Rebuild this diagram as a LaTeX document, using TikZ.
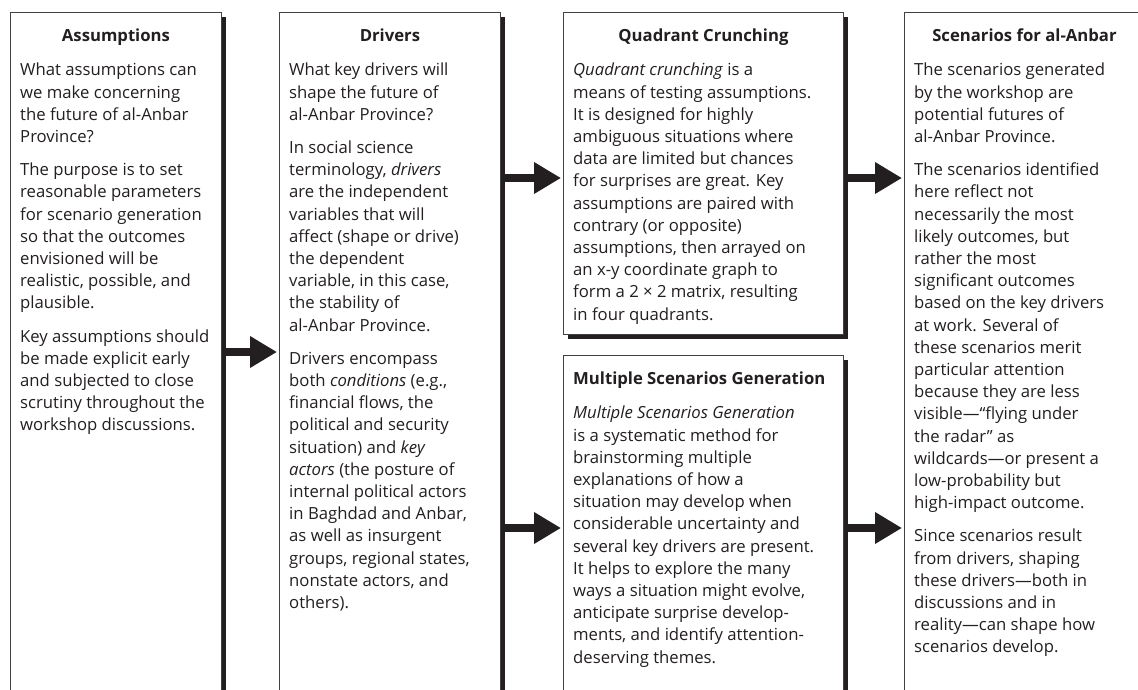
\documentclass[tikz,border=0pt]{standalone}
\usepackage{fontspec}
\setmainfont{Open Sans}
\usetikzlibrary{positioning,shadows,arrows.meta}
\definecolor{ink}{HTML}{231F20}

\begin{document}
\begin{tikzpicture}[x=1pt,y=-1pt,
  box/.style={draw=ink!85,line width=0.9pt,fill=white,anchor=north west,inner sep=0pt,
    drop shadow={shadow xshift=4.5pt,shadow yshift=-4.5pt,fill=ink,opacity=1}},
  head/.style={font=\fontsize{16.7}{22.2}\selectfont\bfseries,text=ink,inner sep=0pt},
  body/.style={font=\fontsize{16.7}{22.2}\selectfont,text=ink,align=left,inner sep=0pt,anchor=north west},
  flow/.style={draw=ink,line width=8pt,-{Triangle[length=27pt,width=30pt]},shorten >=2pt}]
\fill[white] (0,0) rectangle (1138,689);
\useasboundingbox (0,0) rectangle (1138,689);

% boxes
\node[box,minimum width=211pt,minimum height=720pt] (assum) at (10,12) {};
\node[box,minimum width=221pt,minimum height=720pt] (drv) at (279,12) {};
\node[box,minimum width=280pt,minimum height=322pt] (quad) at (563,12) {};
\node[box,minimum width=280pt,minimum height=400pt] (multi) at (563,355) {};
\node[box,minimum width=240pt,minimum height=720pt] (scen) at (904,12) {};

% headings
\node[head,below=17pt of assum.north] (assumH) {Assumptions};
\node[head,below=17pt of drv.north] (drvH) {Drivers};
\node[head,below=17pt of quad.north] (quadH) {Quadrant Crunching};
\node[head,below=17pt of scen.north] (scenH) {Scenarios for al-Anbar};
\node[head,anchor=north west,below right=17pt and 10pt of multi.north west] (multiH) {Multiple Scenarios Generation};

% texts
\node[body,below right=51pt and 10pt of assum.north west] (assumB) {What assumptions can\\
we make concerning\\
the future of al-Anbar\\
Province?\\[11pt]
The purpose is to set\\
reasonable parameters\\
for scenario generation\\
so that the outcomes\\
envisioned will be\\
realistic, possible, and\\
plausible.\\[11pt]
Key assumptions should\\
be made explicit early\\
and subjected to close\\
scrutiny throughout the\\
workshop discussions.};

\node[body,below right=51pt and 10pt of drv.north west] (drvB) {What key drivers will\\
shape the future of\\
al-Anbar Province?\\[11pt]
In social science\\
terminology, \textit{drivers}\\
are the independent\\
variables that will\\
affect (shape or drive)\\
the dependent\\
variable, in this case,\\
the stability of\\
al-Anbar Province.\\[11pt]
Drivers encompass\\
both \textit{conditions} (e.g.,\\
financial flows, the\\
political and security\\
situation) and \textit{key}\\
\textit{actors} (the posture of\\
internal political actors\\
in Baghdad and Anbar,\\
as well as insurgent\\
groups, regional states,\\
nonstate actors, and\\
others).};

\node[body,below right=51pt and 10pt of quad.north west] (quadB) {\textit{Quadrant crunching} is a\\
means of testing assumptions.\\
It is designed for highly\\
ambiguous situations where\\
data are limited but chances\\
for surprises are great. Key\\
assumptions are paired with\\
contrary (or opposite)\\
assumptions, then arrayed on\\
an x-y coordinate graph to\\
form a 2 × 2 matrix, resulting\\
in four quadrants.};

\node[body,below right=51pt and 10pt of multi.north west] (multiB) {\textit{Multiple Scenarios Generation}\\
is a systematic method for\\
brainstorming multiple\\
explanations of how a\\
situation may develop when\\
considerable uncertainty and\\
several key drivers are present.\\
It helps to explore the many\\
ways a situation might evolve,\\
anticipate surprise develop-\\
ments, and identify attention-\\
deserving themes.};

\node[body,below right=51pt and 10pt of scen.north west] (scenB) {The scenarios generated\\
by the workshop are\\
potential futures of\\
al-Anbar Province.\\[11pt]
The scenarios identified\\
here reflect not\\
necessarily the most\\
likely outcomes, but\\
rather the most\\
significant outcomes\\
based on the key drivers\\
at work. Several of\\
these scenarios merit\\
particular attention\\
because they are less\\
visible—“flying under\\
the radar” as\\
wildcards—or present a\\
low-probability but\\
high-impact outcome.\\[11pt]
Since scenarios result\\
from drivers, shaping\\
these drivers—both in\\
discussions and in\\
reality—can shape how\\
scenarios develop.};

% arrows
\coordinate (y1) at (0,352);
\coordinate (y2) at (0,178);
\coordinate (y3) at (0,528);
\draw[flow] (assum.east |- y1) -- (drv.west |- y1);
\draw[flow] (drv.east |- y2) -- (quad.west |- y2);
\draw[flow] (drv.east |- y3) -- (multi.west |- y3);
\draw[flow] (quad.east |- y2) -- (scen.west |- y2);
\draw[flow] (multi.east |- y3) -- (scen.west |- y3);
\end{tikzpicture}
\end{document}
